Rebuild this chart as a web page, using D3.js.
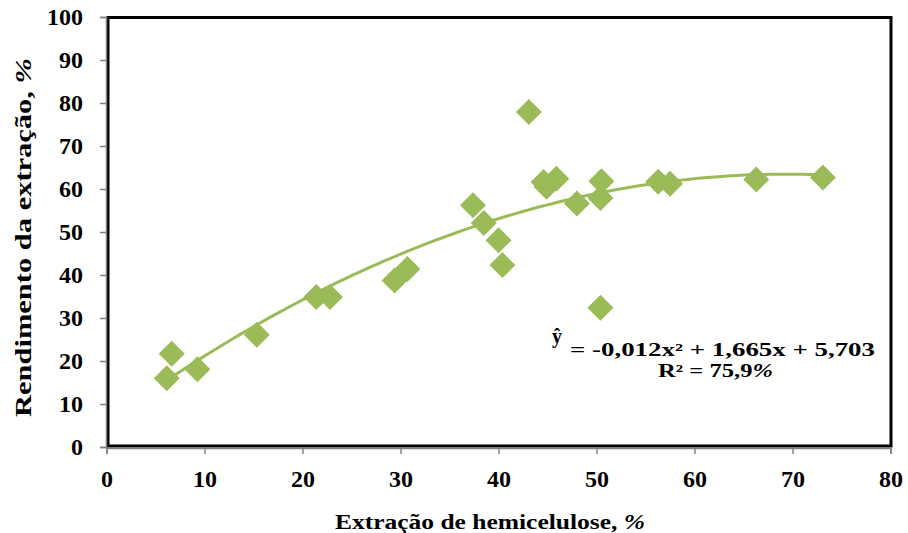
<!DOCTYPE html>
<html>
<head>
<meta charset="utf-8">
<script src="https://cdn.jsdelivr.net/npm/d3@7"></script>
</head>
<body style="margin:0; background:#fff">
<div class="chart"></div>
<script>
// extração de hemicelulose (%) x rendimento da extração (%)
const xVals = [6.15, 6.66, 9.27, 15.33, 21.4, 22.8, 29.4, 30.7, 37.4, 38.5, 40.0, 40.4,
  43.1, 44.6, 44.9, 45.9, 48.0, 50.5, 50.4, 50.4, 56.3, 57.5, 66.3, 73.1]
const yVals = [16.0, 21.7, 18.1, 26.1, 34.9, 34.9, 38.7, 41.4, 56.2, 52.1, 48.1, 42.3,
  77.9, 61.6, 60.5, 62.4, 56.6, 61.8, 57.9, 32.4, 61.7, 61.2, 62.2, 62.7]
const xTicks = [0, 10, 20, 30, 40, 50, 60, 70, 80]
const yTicks = [0, 10, 20, 30, 40, 50, 60, 70, 80, 90, 100]
// ajuste polinomial (ordem 2): a*x^2 + b*x + c
const trendCoef = [-0.012, 1.665, 5.703]

const green = '#9BBB59'
const font = 'Liberation Serif'
const W = 908, H = 533

const svg = d3.select('.chart').append('svg')
  .attr('width', W)
  .attr('height', H)
  .attr('font-family', font)
  .attr('font-weight', 'bold')

const x = d3.scaleLinear().domain([0, 80]).range([106.5, 890.5])
const y = d3.scaleLinear().domain([0, 100]).range([447, 17])

// moldura da área do gráfico
svg.append('rect')
  .attr('x', 108).attr('y', 17.5)
  .attr('width', 783).attr('height', 428.5)
  .attr('fill', 'none')
  .attr('stroke', '#000')
  .attr('stroke-width', 3)

const styleAxis = (g) => {
  g.attr('font-family', font).attr('font-size', 24).attr('font-weight', 'bold')
  g.select('.domain').attr('stroke', '#808080').attr('stroke-width', 1.5)
  g.selectAll('.tick line').attr('stroke', '#808080').attr('stroke-width', 1.5)
  g.selectAll('.tick text').attr('fill', '#000')
}

svg.append('g')
  .attr('transform', 'translate(106,0)')
  .call(d3.axisLeft(y).tickValues(yTicks).tickSize(6).tickPadding(17))
  .call(styleAxis)

svg.append('g')
  .attr('transform', 'translate(0,448)')
  .call(d3.axisBottom(x).tickValues(xTicks).tickSize(6).tickPadding(16))
  .call(styleAxis)

// linha de tendência
const trend = (v) => trendCoef[0] * v * v + trendCoef[1] * v + trendCoef[2]
const xMin = d3.min(xVals), xMax = d3.max(xVals)
const trendPts = d3.range(0, 101).map((i) => xMin + (xMax - xMin) * i / 100)
svg.append('path')
  .datum(trendPts)
  .attr('fill', 'none')
  .attr('stroke', green)
  .attr('stroke-width', 3)
  .attr('d', d3.line().x((d) => x(d)).y((d) => y(trend(d))))

// pontos
const pts = xVals.map((v, i) => ({ x: v, y: yVals[i] }))
svg.append('g')
  .selectAll('path')
  .data(pts)
  .enter()
  .append('path')
  .attr('d', 'M0,-13L13,0L0,13L-13,0Z')
  .attr('fill', green)
  .attr('transform', (d) => `translate(${x(d.x)},${y(d.y)})`)

// títulos dos eixos
const xt = svg.append('text')
  .attr('x', 490).attr('y', 529)
  .attr('text-anchor', 'middle')
  .attr('font-size', 21)
  .attr('textLength', 310)
  .attr('lengthAdjust', 'spacingAndGlyphs')
xt.append('tspan').text('Extração de hemicelulose, ')
xt.append('tspan').attr('font-style', 'italic').text('%')

const yt = svg.append('text')
  .attr('transform', 'translate(31,237.5) rotate(-90)')
  .attr('text-anchor', 'middle')
  .attr('font-size', 24)
  .attr('textLength', 359)
  .attr('lengthAdjust', 'spacingAndGlyphs')
yt.append('tspan').text('Rendimento da extração, ')
yt.append('tspan').attr('font-style', 'italic').text('%')

// equação
svg.append('text')
  .attr('x', 552).attr('y', 343)
  .attr('font-size', 20)
  .text('ŷ')
svg.append('text')
  .attr('x', 570).attr('y', 356)
  .attr('font-size', 18.5)
  .attr('textLength', 305)
  .attr('lengthAdjust', 'spacingAndGlyphs')
  .text('= -0,012x² + 1,665x + 5,703')
const r2 = svg.append('text')
  .attr('x', 658).attr('y', 377)
  .attr('font-size', 18.5)
  .attr('textLength', 115)
  .attr('lengthAdjust', 'spacingAndGlyphs')
r2.append('tspan').text('R² = 75,9')
r2.append('tspan').attr('font-style', 'italic').text('%')
</script>
</body>
</html>
